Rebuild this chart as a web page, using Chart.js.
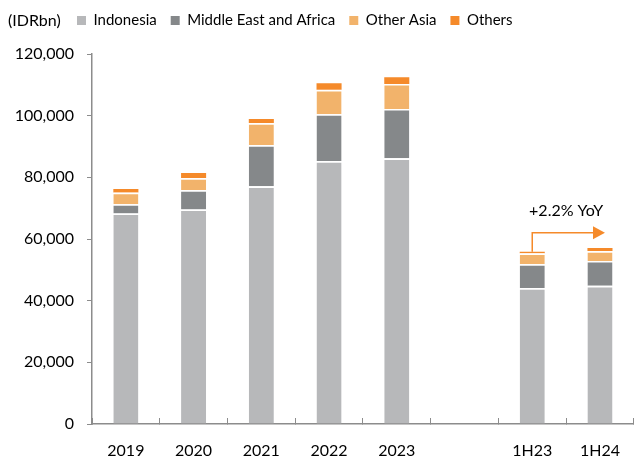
<!DOCTYPE html>
<html>
<head>
<meta charset="utf-8">
<script src="https://cdn.jsdelivr.net/npm/chart.js@4"></script>
<style>
  html, body { margin: 0; padding: 0; background: #fff; }
  #wrap { position: relative; width: 635px; height: 459px; }
  #unit { position: absolute; left: 8px; top: 10px; font: 16px Lato, "Open Sans", sans-serif; color: #000; }
</style>
</head>
<body>
<div id="wrap">
  <canvas id="chartCanvas" width="635" height="459"></canvas>
  <div id="unit">(IDRbn)</div>
</div>
<script>
// data (IDRbn)
const categories = ["2019", "2020", "2021", "2022", "2023", "", "1H23", "1H24"];
const indonesia = [68300, 69600, 77100, 85300, 86200, null, 44100, 44800];
const middleEastAfrica = [3000, 6300, 13400, 15200, 16000, null, 7800, 8100];
const otherAsia = [3800, 3900, 7100, 7900, 8100, null, 3500, 3200];
const others = [1100, 1600, 1300, 2100, 2200, null, 500, 1000];
const yTicks = [0, 20000, 40000, 60000, 80000, 100000, 120000];

const yoyLabel = "+2.2% YoY";
const yoyFrom = 6;      // 1H23
const yoyTo = 7;        // 1H24
const yoyArrowLevel = 62000;
const yoyTextLevel = 69000;

const fontFamily = "Lato, 'Open Sans', sans-serif";
const axisColor = "#8c8c8c";

const colors = {
  indonesia: "#b7b8ba",
  mea: "#85888a",
  otherAsia: "#f2b36b",
  others: "#f58a2a",
};

function seg(label, data, color, gap) {
  return {
    label: label,
    data: data,
    backgroundColor: color,
    borderColor: "#ffffff",
    borderWidth: gap ? { top: 1.7, left: 0, right: 0, bottom: 0 } : 0,
    borderSkipped: "bottom",
    categoryPercentage: 1,
    barPercentage: 0.37,
  };
}

// arrow + YoY label
const yoyPlugin = {
  id: "yoy",
  afterDatasetsDraw(chart) {
    const x = chart.scales.x;
    const y = chart.scales.y;
    const sum = (i) => indonesia[i] + middleEastAfrica[i] + otherAsia[i] + others[i];
    const x0 = x.getPixelForValue(yoyFrom);
    const x1 = x.getPixelForValue(yoyTo) + 5;
    const yStart = y.getPixelForValue(sum(yoyFrom));
    const yLine = y.getPixelForValue(yoyArrowLevel);
    const ctx = chart.ctx;
    ctx.save();
    ctx.strokeStyle = colors.others;
    ctx.fillStyle = colors.others;
    ctx.lineWidth = 1.5;
    ctx.beginPath();
    ctx.moveTo(x0, yStart);
    ctx.lineTo(x0, yLine);
    ctx.lineTo(x1 - 11, yLine);
    ctx.stroke();
    ctx.beginPath();
    ctx.moveTo(x1, yLine);
    ctx.lineTo(x1 - 12, yLine - 6.5);
    ctx.lineTo(x1 - 12, yLine + 6.5);
    ctx.closePath();
    ctx.fill();
    ctx.fillStyle = "#000";
    ctx.font = "16px " + fontFamily;
    ctx.textAlign = "center";
    ctx.textBaseline = "middle";
    ctx.fillText(yoyLabel, (x.getPixelForValue(yoyFrom) + x.getPixelForValue(yoyTo)) / 2, y.getPixelForValue(yoyTextLevel));
    ctx.restore();
  },
  afterLayout(chart) {
    // legend sits on the title row, right of the unit label
    const lg = chart.legend;
    lg.left = 63;
    lg.right = 635;
    lg.top = -1;
  },
};

const chart = new Chart(document.getElementById("chartCanvas"), {
  type: "bar",
  data: {
    labels: categories,
    datasets: [
      seg("Indonesia", indonesia, colors.indonesia, true),
      seg("Middle East and Africa", middleEastAfrica, colors.mea, true),
      seg("Other Asia", otherAsia, colors.otherAsia, true),
      seg("Others", others, colors.others, false),
    ],
  },
  options: {
    responsive: false,
    animation: false,
    layout: { padding: { top: 15, left: 0, right: 0, bottom: 0 } },
    plugins: {
      tooltip: { enabled: false },
      legend: {
        position: "top",
        align: "start",
        labels: {
          boxWidth: 9,
          boxHeight: 9,
          padding: 14,
          color: "#000",
          font: { family: fontFamily, size: 15 },
          generateLabels(chart) {
            const items = Chart.defaults.plugins.legend.labels.generateLabels(chart);
            items.forEach((it) => { it.lineWidth = 0; });
            return items;
          },
        },
      },
    },
    scales: {
      x: {
        stacked: true,
        grid: { offset: true, drawOnChartArea: false, drawTicks: true, tickLength: -6, color: axisColor, lineWidth: 1 },
        border: { display: true, color: axisColor, width: 1.5 },
        ticks: { color: "#000", padding: 15, font: { family: fontFamily, size: 16, lineHeight: 2.2 } },
        afterFit(scale) { scale.height = 35; },
      },
      y: {
        stacked: true,
        min: 0,
        max: 120000,
        afterBuildTicks(scale) { scale.ticks = yTicks.map((v) => ({ value: v })); },
        grid: { drawOnChartArea: false, drawTicks: true, tickLength: 5, color: axisColor, lineWidth: 1 },
        border: { display: true, color: axisColor, width: 1.5 },
        ticks: {
          color: "#000",
          padding: 13,
          font: { family: fontFamily, size: 16 },
          callback: (v) => v.toLocaleString("en-US"),
        },
        afterFit(scale) { scale.width = 92; },
      },
    },
  },
  plugins: [yoyPlugin],
});
</script>
</body>
</html>
